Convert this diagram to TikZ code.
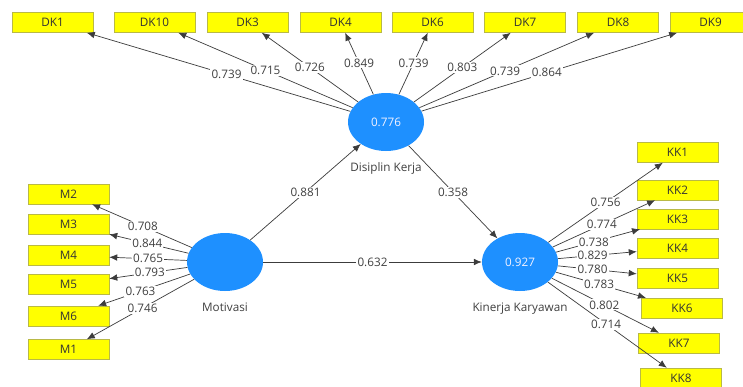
\documentclass[tikz,border=0pt]{standalone}
\usepackage{fontspec}
\setmainfont{Open Sans}
\usetikzlibrary{shapes.geometric,arrows.meta}
\tikzset{>={Latex[length=2.4mm,width=2mm]}}
\definecolor{plsblue}{RGB}{30,144,255}
\definecolor{plsyellow}{RGB}{255,255,0}
\definecolor{plsedge}{RGB}{185,185,70}
\definecolor{plsline}{RGB}{60,60,60}

\begin{document}
\begin{tikzpicture}[x=0.03cm,y=-0.03cm,font=\fontsize{10}{12}\selectfont]
    \tikzstyle{indicator}=[draw=plsedge,fill=plsyellow,minimum width=2.43cm,minimum height=0.6cm,inner sep=0pt,text=black!80];
    \tikzstyle{construct}=[ellipse,fill=plsblue,minimum width=2.28cm,minimum height=1.74cm,inner sep=0pt,text=blue!5];
    \tikzstyle{lvcaption}=[text=black!75,yshift=-6pt];
    \tikzstyle{link}=[->,draw=plsline,line width=.6pt];
    \tikzstyle{weight}=[fill=white,inner sep=1pt,text=black!75];

    \path[use as bounding box,fill=white] (0,0) rectangle (743,387);
    \clip (0,0) rectangle (743,387);

    % latent variables
    \node[construct,label={[lvcaption]below:Disiplin Kerja}] (dk) at (386,122) {0.776};
    \node[construct,label={[lvcaption]below:Motivasi}] (mot) at (225,262) {};
    \node[construct,label={[lvcaption]below:Kinerja Karyawan}] (kin) at (520,262) {0.927};

    % indicators of Disiplin Kerja
    \node[indicator] (dk1) at (52.5,22.5) {DK1};
    \node[indicator] (dk10) at (154.5,22.5) {DK10};
    \node[indicator] (dk3) at (247.5,22.5) {DK3};
    \node[indicator] (dk4) at (340.5,22.5) {DK4};
    \node[indicator] (dk6) at (432.5,22.5) {DK6};
    \node[indicator] (dk7) at (525,22.5) {DK7};
    \node[indicator] (dk8) at (618,22.5) {DK8};
    \node[indicator] (dk9) at (710.5,22.5) {DK9};

    % indicators of Motivasi
    \node[indicator] (m2) at (68.5,194) {M2};
    \node[indicator] (m3) at (68.5,224.5) {M3};
    \node[indicator] (m4) at (68.5,255.5) {M4};
    \node[indicator] (m5) at (68.5,284.5) {M5};
    \node[indicator] (m6) at (68.5,316) {M6};
    \node[indicator] (m1) at (68.5,349.5) {M1};

    % indicators of Kinerja Karyawan
    \node[indicator] (kk1) at (677.5,152.5) {KK1};
    \node[indicator] (kk2) at (677.5,190) {KK2};
    \node[indicator] (kk3) at (677.5,219) {KK3};
    \node[indicator] (kk4) at (677.5,248) {KK4};
    \node[indicator] (kk5) at (677.5,278) {KK5};
    \node[indicator] (kk6) at (682,308) {KK6};
    \node[indicator] (kk7) at (679,343) {KK7};
    \node[indicator] (kk8) at (681,378) {KK8};

    % outer loadings
    \draw[link] (dk) -- (dk1) node[weight,pos=.47]{0.739};
    \draw[link] (dk) -- (dk10) node[weight,pos=.5]{0.715};
    \draw[link] (dk) -- (dk3) node[weight,pos=.5]{0.726};
    \draw[link] (dk) -- (dk4) node[weight,pos=.51]{0.849};
    \draw[link] (dk) -- (dk6) node[weight,pos=.51]{0.739};
    \draw[link] (dk) -- (dk7) node[weight,pos=.5]{0.803};
    \draw[link] (dk) -- (dk8) node[weight,pos=.49]{0.739};
    \draw[link] (dk) -- (dk9) node[weight,pos=.49]{0.864};

    \draw[link] (mot) -- (m2) node[weight,pos=.49]{0.708};
    \draw[link] (mot) -- (m3) node[weight,pos=.52]{0.844};
    \draw[link] (mot) -- (m4) node[weight,pos=.5]{0.765};
    \draw[link] (mot) -- (m5) node[weight,pos=.48]{0.793};
    \draw[link] (mot) -- (m6) node[weight,pos=.54]{0.763};
    \draw[link] (mot) -- (m1) node[weight,pos=.48]{0.746};

    \draw[link] (kin) -- (kk1) node[weight,pos=.5]{0.756};
    \draw[link] (kin) -- (kk2) node[weight,pos=.48]{0.774};
    \draw[link] (kin) -- (kk3) node[weight,pos=.45]{0.738};
    \draw[link] (kin) -- (kk4) node[weight,pos=.44]{0.829};
    \draw[link] (kin) -- (kk5) node[weight,pos=.44]{0.780};
    \draw[link] (kin) -- (kk6) node[weight,pos=.48]{0.783};
    \draw[link] (kin) -- (kk7) node[weight,pos=.49]{0.802};
    \draw[link] (kin) -- (kk8) node[weight,pos=.49]{0.714};

    % path coefficients
    \draw[link] (mot) -- (dk) node[weight,midway]{0.881};
    \draw[link] (dk) -- (kin) node[weight,midway]{0.358};
    \draw[link] (mot) -- (kin) node[weight,midway]{0.632};
\end{tikzpicture}
\end{document}
